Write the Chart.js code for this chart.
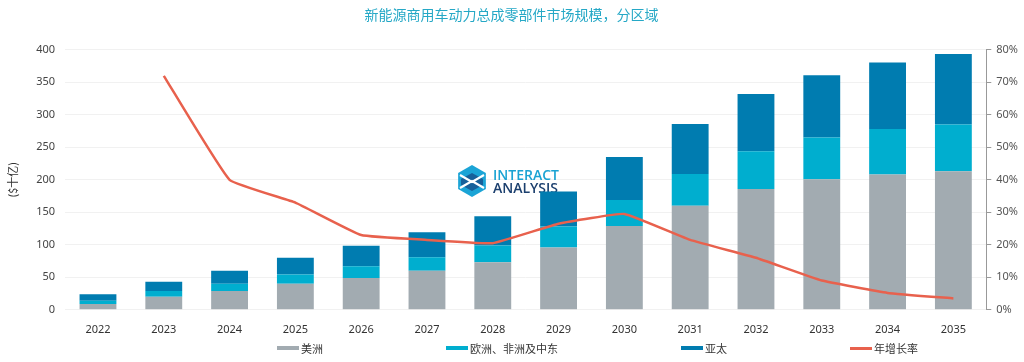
<!DOCTYPE html>
<html>
<head>
<meta charset="utf-8">
<script src="https://cdn.jsdelivr.net/npm/chart.js@4.4.1/dist/chart.umd.min.js"></script>
<style>
    html, body {
        margin: 0;
        padding: 0;
        background: #ffffff;
    }
    .wrap {
        position: relative;
        width: 1024px;
        height: 362px;
    }
    .legend {
        position: absolute;
        left: 277px;
        top: 340px;
        display: flex;
        align-items: center;
        gap: 123px;
        font-family: "Noto Sans CJK SC", "Noto Sans", sans-serif;
        font-size: 11px;
        color: #333;
    }
    .legend-item {
        display: flex;
        align-items: center;
        white-space: nowrap;
    }
    .legend-item i {
        display: inline-block;
        width: 22px;
        height: 4px;
        margin-right: 2px;
    }
</style>
</head>
<body>
<div class="wrap">
    <canvas id="marketChart" width="1024" height="362"></canvas>
    <div class="legend" id="legend"></div>
</div>
<script>
// Chart data
const years = ['2022', '2023', '2024', '2025', '2026', '2027', '2028', '2029', '2030', '2031', '2032', '2033', '2034', '2035'];
const americas = [9, 20, 29, 40, 49, 60, 73, 96, 129, 160, 186, 201, 208, 213];
const emea = [5, 9, 11, 14.5, 18, 21, 26, 32, 40, 49, 58, 64, 70, 72];
const apac = [10, 14, 20, 25.5, 31.5, 38.5, 45, 54, 66, 77, 88, 96, 102.5, 108.5];
const growth = [null, 72, 40, 33, 23, 21.5, 20.5, 26.5, 29.5, 21.5, 16, 9, 5.2, 3.5];
const leftTicks = [0, 50, 100, 150, 200, 250, 300, 350, 400];
const rightTicks = [0, 10, 20, 30, 40, 50, 60, 70, 80];

const seriesNames = ['美洲', '欧洲、非洲及中东', '亚太', '年增长率'];
const seriesColors = ['#a2abb1', '#00aecf', '#007cb0', '#e8614d'];

const tickFont = { family: '"Noto Sans", sans-serif', size: 11 };

// Interact Analysis watermark, drawn behind the bars
const watermark = {
    id: 'watermark',
    beforeDatasetsDraw(chart) {
        const ctx = chart.ctx;
        const cx = 472, cy = 181, r = 16;
        ctx.save();
        // hexagon
        ctx.beginPath();
        for (let i = 0; i < 6; i++) {
            const a = Math.PI / 3 * i - Math.PI / 2;
            const px = cx + r * Math.cos(a);
            const py = cy + r * Math.sin(a);
            if (i === 0) ctx.moveTo(px, py); else ctx.lineTo(px, py);
        }
        ctx.closePath();
        ctx.fillStyle = '#1ba4d6';
        ctx.fill();
        // inner darker band
        ctx.beginPath();
        ctx.moveTo(cx - 11, cy - 2);
        ctx.lineTo(cx, cy - 8);
        ctx.lineTo(cx + 11, cy - 2);
        ctx.lineTo(cx + 11, cy + 4);
        ctx.lineTo(cx, cy + 10);
        ctx.lineTo(cx - 11, cy + 4);
        ctx.closePath();
        ctx.fillStyle = '#17609a';
        ctx.fill();
        // white chevrons
        ctx.strokeStyle = '#ffffff';
        ctx.lineWidth = 2.2;
        ctx.beginPath();
        ctx.moveTo(cx - 12, cy - 6);
        ctx.lineTo(cx, cy + 1);
        ctx.lineTo(cx + 12, cy - 6);
        ctx.moveTo(cx - 12, cy + 7);
        ctx.lineTo(cx, cy);
        ctx.lineTo(cx + 12, cy + 7);
        ctx.stroke();
        // text
        ctx.textBaseline = 'alphabetic';
        ctx.textAlign = 'left';
        ctx.font = '600 14px "Open Sans", sans-serif';
        ctx.fillStyle = '#1aa3d3';
        ctx.fillText('INTERACT', 493, 180);
        ctx.fillStyle = '#1b3f6e';
        ctx.fillText('ANALYSIS', 493, 193);
        ctx.restore();
    }
};

function initChart() {
    const ctx = document.getElementById('marketChart').getContext('2d');

    new Chart(ctx, {
        data: {
            labels: years,
            datasets: [
                {
                    type: 'line',
                    label: seriesNames[3],
                    data: growth,
                    yAxisID: 'y1',
                    borderColor: seriesColors[3],
                    borderWidth: 2.5,
                    pointRadius: 0,
                    tension: 0.1,
                    order: 0
                },
                {
                    type: 'bar',
                    label: seriesNames[0],
                    data: americas,
                    backgroundColor: seriesColors[0],
                    stack: 'region',
                    order: 1
                },
                {
                    type: 'bar',
                    label: seriesNames[1],
                    data: emea,
                    backgroundColor: seriesColors[1],
                    stack: 'region',
                    order: 1
                },
                {
                    type: 'bar',
                    label: seriesNames[2],
                    data: apac,
                    backgroundColor: seriesColors[2],
                    stack: 'region',
                    order: 1
                }
            ]
        },
        options: {
            responsive: false,
            animation: false,
            barPercentage: 0.56,
            categoryPercentage: 1,
            layout: {
                padding: { left: 0, right: 1, top: 0, bottom: 21 }
            },
            scales: {
                x: {
                    stacked: true,
                    grid: { display: false },
                    border: { display: false },
                    ticks: {
                        color: '#333',
                        font: tickFont,
                        padding: 5,
                        maxRotation: 0
                    }
                },
                y: {
                    stacked: true,
                    min: 0,
                    max: 400,
                    afterBuildTicks: function(axis) {
                        axis.ticks = leftTicks.map(v => ({ value: v }));
                    },
                    grid: {
                        color: '#f1f1f1',
                        drawTicks: false
                    },
                    border: { display: false },
                    ticks: {
                        color: '#444',
                        font: tickFont,
                        padding: 10
                    },
                    title: {
                        display: true,
                        text: '($十亿)',
                        color: '#333',
                        font: { family: '"Noto Sans CJK SC", sans-serif', size: 11 },
                        padding: { top: 6, bottom: 7 }
                    }
                },
                y1: {
                    position: 'right',
                    min: 0,
                    max: 80,
                    afterBuildTicks: function(axis) {
                        axis.ticks = rightTicks.map(v => ({ value: v }));
                    },
                    grid: {
                        drawOnChartArea: false,
                        color: '#999',
                        tickLength: 5
                    },
                    border: { display: true, color: '#999' },
                    ticks: {
                        color: '#555',
                        font: tickFont,
                        padding: 5,
                        callback: function(value) {
                            return value + '%';
                        }
                    }
                }
            },
            plugins: {
                legend: { display: false },
                tooltip: { enabled: false },
                title: {
                    display: true,
                    text: '新能源商用车动力总成零部件市场规模，分区域',
                    color: '#25a8c6',
                    font: { family: '"Noto Sans CJK SC", sans-serif', size: 14, weight: 'normal' },
                    padding: { top: 6, bottom: 27 }
                }
            }
        },
        plugins: [watermark]
    });
}

// Build the legend as HTML below the chart
function initLegend() {
    const legend = document.getElementById('legend');
    seriesNames.forEach((name, i) => {
        const item = document.createElement('span');
        item.className = 'legend-item';
        const swatch = document.createElement('i');
        swatch.style.background = seriesColors[i];
        if (i === 3) swatch.style.height = '3px';
        item.appendChild(swatch);
        item.appendChild(document.createTextNode(name));
        legend.appendChild(item);
    });
}

initChart();
initLegend();
</script>
</body>
</html>
